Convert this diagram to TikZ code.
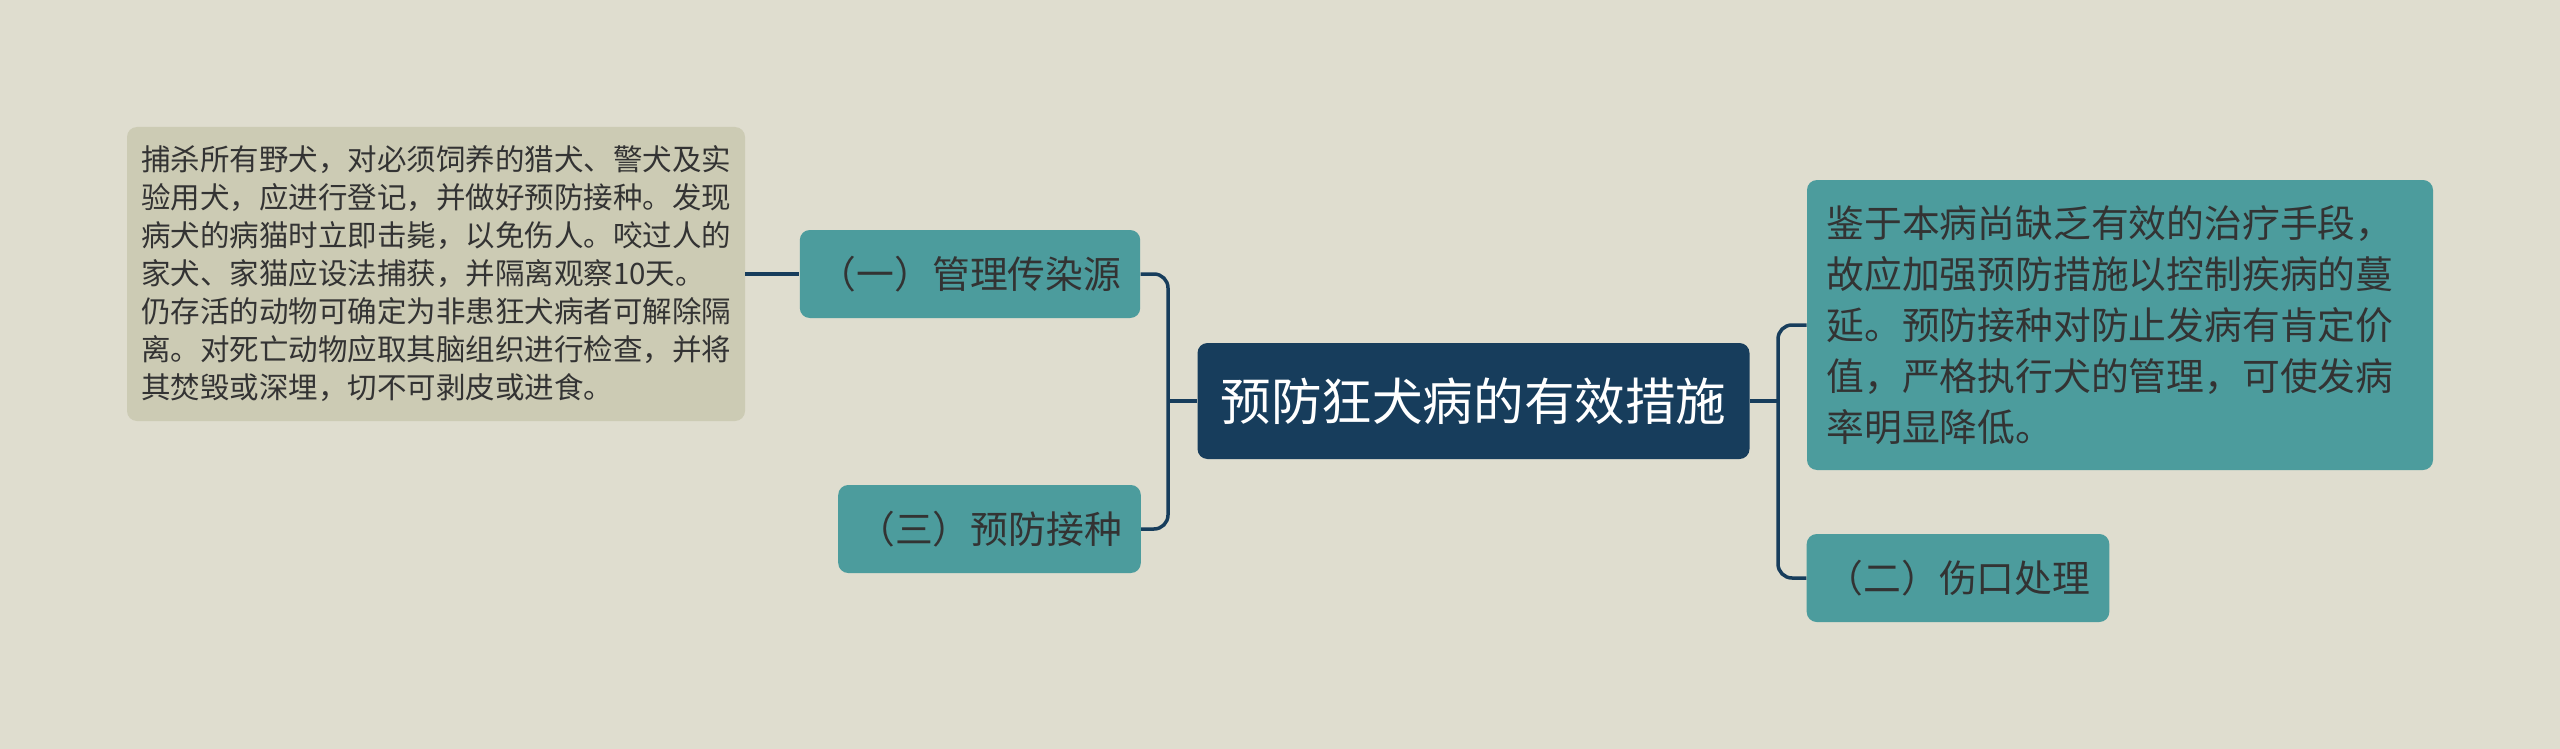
\documentclass[tikz,border=0pt]{standalone}
\usepackage{fontspec}
\setmainfont{Noto Sans CJK SC}
\usepackage{xcolor}
\definecolor{paper}{HTML}{DFDDCF}
\definecolor{sand}{HTML}{CCCBB4}
\definecolor{teal}{HTML}{4C9C9D}
\definecolor{navy}{HTML}{173D5C}
\definecolor{ink}{HTML}{333333}
\tikzset{
  topic/.style={fill=teal, text=ink, rounded corners=5pt, inner xsep=9.5pt,
    minimum height=44pt, font=\fontsize{18.9pt}{25.5pt}\selectfont},
  root/.style={fill=navy, text=white, rounded corners=5pt, inner xsep=11.5pt,
    minimum height=58pt, font=\fontsize{25.3pt}{30pt}\selectfont},
  note/.style={fill=sand, text=ink, rounded corners=5pt, inner xsep=7pt,
    align=left, minimum height=147pt, font=\fontsize{14.75pt}{19pt}\selectfont},
  link/.style={draw=navy, line width=1.75pt, rounded corners=7pt}
}

\begin{document}
\begin{tikzpicture}[x=0.5pt,y=-0.5pt]
  \fill[paper] (0,0) rectangle (2560,749);

  \node[root] (core) at (1473.5,401) {预防狂犬病的有效措施};

  \node[topic] (one) at (970,274) {（一）管理传染源};
  \node[topic] (three) at (989.5,529) {（三）预防接种};
  \node[topic] (two) at (1958,578) {（二）伤口处理};
  \node[topic, align=left, text width=293.5pt, inner xsep=9.75pt, minimum height=145pt]
    (cure) at (2120,325) {鉴于本病尚缺乏有效的治疗手段，\\故应加强预防措施以控制疾病的蔓\\延。预防接种对防止发病有肯定价\\值，严格执行犬的管理，可使发病\\率明显降低。};

  \node[note, text width=295pt] (onetext) at (436,274) {捕杀所有野犬，对必须饲养的猎犬、警犬及实\\验用犬，应进行登记，并做好预防接种。发现\\病犬的病猫时立即击毙，以免伤人。咬过人的\\家犬、家猫应设法捕获，并隔离观察10天。\\仍存活的动物可确定为非患狂犬病者可解除隔\\离。对死亡动物应取其脑组织进行检查，并将\\其焚毁或深埋，切不可剥皮或进食。};

  \coordinate (lb) at (1168,401);
  \coordinate (rb) at (1778,401);

  \draw[link] (core.west) -- (lb);
  \draw[link] (one.east) -| (lb) |- (three.east);
  \draw[link] (core.east) -- (rb);
  \draw[link] (cure.west) -| (rb) |- (two.west);
  \draw[link] (onetext.east) -- (one.west);
\end{tikzpicture}
\end{document}
